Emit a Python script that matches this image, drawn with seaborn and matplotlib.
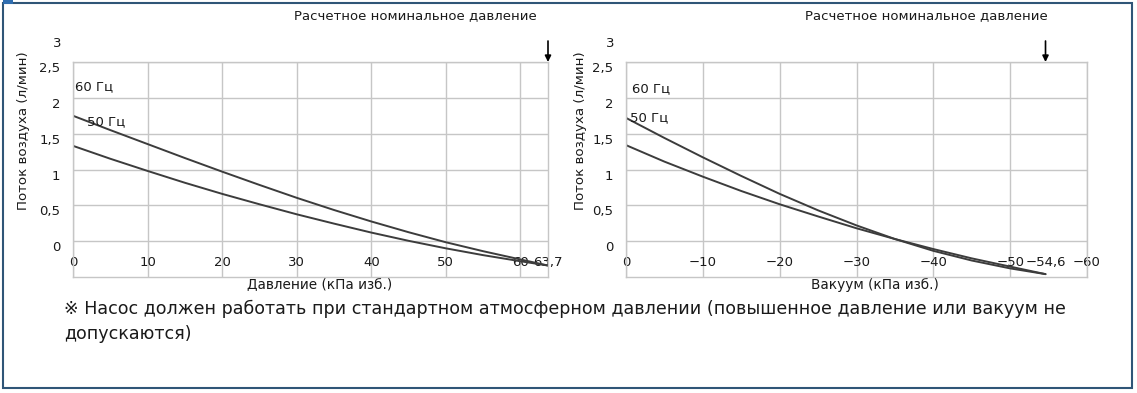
import matplotlib
matplotlib.use("Agg")
import matplotlib.pyplot as plt
from matplotlib.patches import Rectangle
import pandas as pd
import seaborn as sns

# ---------------- data ----------------
pressure_kpa = [0, 5, 10, 15, 20, 25, 30, 35, 40, 45, 50, 55, 60, 63.7]
pressure_flow_60hz = [1.75, 1.55, 1.355, 1.16, 0.97, 0.785, 0.605, 0.435, 0.275, 0.125, -0.015, -0.14, -0.255, -0.34]
pressure_flow_50hz = [1.33, 1.15, 0.98, 0.815, 0.66, 0.515, 0.375, 0.245, 0.12, 0.005, -0.10, -0.195, -0.28, -0.34]

vacuum_kpa = [0, -5, -10, -15, -20, -25, -30, -35, -40, -45, -50, -54.6]
vacuum_flow_60hz = [1.72, 1.44, 1.17, 0.91, 0.66, 0.43, 0.22, 0.03, -0.135, -0.27, -0.38, -0.46]
vacuum_flow_50hz = [1.34, 1.11, 0.90, 0.70, 0.515, 0.345, 0.18, 0.03, -0.11, -0.24, -0.355, -0.46]

y_ticks = [0, 0.5, 1, 1.5, 2, 2.5]
y_tick_labels = ["0", "0,5", "1", "1,5", "2", "2,5"]
y_top_label = "3"

pressure_ticks = [0, 10, 20, 30, 40, 50, 60]
pressure_tick_labels = ["0", "10", "20", "30", "40", "50", "60"]
pressure_rated = 63.7
pressure_rated_label = "63,7"

vacuum_ticks = [0, -10, -20, -30, -40, -50, -60]
vacuum_tick_labels = ["0", "\u221210", "\u221220", "\u221230", "\u221240", "\u221250", "\u221260"]
vacuum_rated = -54.6
vacuum_rated_label = "\u221254,6"

series_names = ["60 Гц", "50 Гц"]
title_text = "Расчетное номинальное давление"
ylabel_text = "Поток воздуха (л/мин)"
xlabel_pressure = "Давление (кПа изб.)"
xlabel_vacuum = "Вакуум (кПа изб.)"
note_text = ("※ Насос должен работать при стандартном атмосферном давлении (повышенное давление или вакуум не\n"
             "допускаются)")

# ---------------- style ----------------
sns.set_theme(style="white")
plt.rcParams["font.family"] = ["DejaVu Sans", "Noto Sans CJK KR"]
plt.rcParams["axes.unicode_minus"] = True

GRID = "#c6c6c6"
LINE = "#3c3c3c"
TXT = "#1a1a1a"
FRAME = "#2f5577"
TICK_FS = 9.5

W, H = 1137, 393
fig = plt.figure(figsize=(W / 100, H / 100), dpi=100)
fig.patch.set_facecolor("white")


def px_rect(x0, y0, x1, y1):
    return [x0 / W, 1 - y1 / H, (x1 - x0) / W, (y1 - y0) / H]


ax1 = fig.add_axes(px_rect(73, 62, 548, 277))
ax2 = fig.add_axes(px_rect(626, 62, 1087, 277))


def make_df(x, y60, y50):
    return pd.DataFrame({
        "x": list(x) + list(x),
        "flow": list(y60) + list(y50),
        "freq": [series_names[0]] * len(x) + [series_names[1]] * len(x),
    })


df_p = make_df(pressure_kpa, pressure_flow_60hz, pressure_flow_50hz)
df_v = make_df(vacuum_kpa, vacuum_flow_60hz, vacuum_flow_50hz)

pal = {series_names[0]: LINE, series_names[1]: LINE}

for ax, df, ticks, tlabels, rated, rlabel, xlim, xlabel in [
    (ax1, df_p, pressure_ticks, pressure_tick_labels, pressure_rated, pressure_rated_label, (0, 63.7), xlabel_pressure),
    (ax2, df_v, vacuum_ticks, vacuum_tick_labels, vacuum_rated, vacuum_rated_label, (0, -60), xlabel_vacuum),
]:
    sns.lineplot(data=df, x="x", y="flow", hue="freq", palette=pal, legend=False,
                 ax=ax, linewidth=1.4, estimator=None, sort=True)
    ax.set_xlim(*xlim)
    ax.set_ylim(-0.5, 2.5)
    ax.set_yticks(y_ticks, labels=y_tick_labels)
    ax.set_xticks(ticks, labels=tlabels)
    ax.set_xticks([rated], labels=[rlabel], minor=True)
    ax.grid(True, which="major", color=GRID, linewidth=1.0)
    ax.grid(False, which="minor")
    for sp in ax.spines.values():
        sp.set_visible(True)
        sp.set_color(GRID)
        sp.set_linewidth(1.0)
    ax.tick_params(axis="x", which="both", length=0, pad=-15, labelsize=TICK_FS, labelcolor=TXT)
    ax.tick_params(axis="y", which="both", length=0, pad=9, labelsize=TICK_FS, labelcolor=TXT)
    for lab in ax.get_yticklabels():
        lab.set_va("top")
    # "3" label above the plot area
    ax.annotate(y_top_label, xy=(0, 2.5), xycoords=("axes fraction", "data"),
                xytext=(-12, 19), textcoords="offset pixels", ha="right", va="center",
                fontsize=TICK_FS, color=TXT, annotation_clip=False)
    # rated pressure arrow
    ax.annotate("", xy=(rated, 2.5), xycoords="data", xytext=(0, 21), textcoords="offset pixels",
                arrowprops=dict(arrowstyle="-|>", color="black", lw=1.2, mutation_scale=9,
                                shrinkA=0, shrinkB=0), annotation_clip=False)
    ax.set_xlabel(xlabel, fontsize=9.8, color=TXT)
    ax.set_ylabel(ylabel_text, fontsize=9.6, color=TXT)

ax1.yaxis.set_label_coords(-0.09, 0.68)
ax2.yaxis.set_label_coords(-0.085, 0.68)
ax1.xaxis.set_label_coords(0.52, -0.005)
ax2.xaxis.set_label_coords(0.54, -0.005)
ax1.xaxis.label.set_va("top")
ax2.xaxis.label.set_va("top")

# series labels
ax1.text(0.3, 2.15, series_names[0], fontsize=TICK_FS, color=TXT, va="center")
ax1.text(1.9, 1.66, series_names[1], fontsize=TICK_FS, color=TXT, va="center")
ax2.text(-0.8, 2.13, series_names[0], fontsize=TICK_FS, color=TXT, va="center")
ax2.text(-0.5, 1.72, series_names[1], fontsize=TICK_FS, color=TXT, va="center")

# rated pressure titles
fig.text(415 / W, 1 - 16 / H, title_text, ha="center", va="center", fontsize=9.5, color=TXT)
fig.text(926 / W, 1 - 16 / H, title_text, ha="center", va="center", fontsize=9.5, color=TXT)

# footnote
fig.text(64 / W, 1 - 300 / H, note_text, ha="left", va="top", fontsize=12.6, color=TXT,
         linespacing=1.45)

# page frame
fig.add_artist(Rectangle((3 / W, 1 - 388 / H), (1132 - 3) / W, (388 - 3) / H,
                         transform=fig.transFigure, fill=False, edgecolor=FRAME, linewidth=1.5))
fig.add_artist(Rectangle((3 / W, 1 - 4 / H), 10 / W, 4 / H, transform=fig.transFigure,
                         facecolor="#2f6db0", edgecolor="none"))

fig.savefig("out.png", dpi=100)
